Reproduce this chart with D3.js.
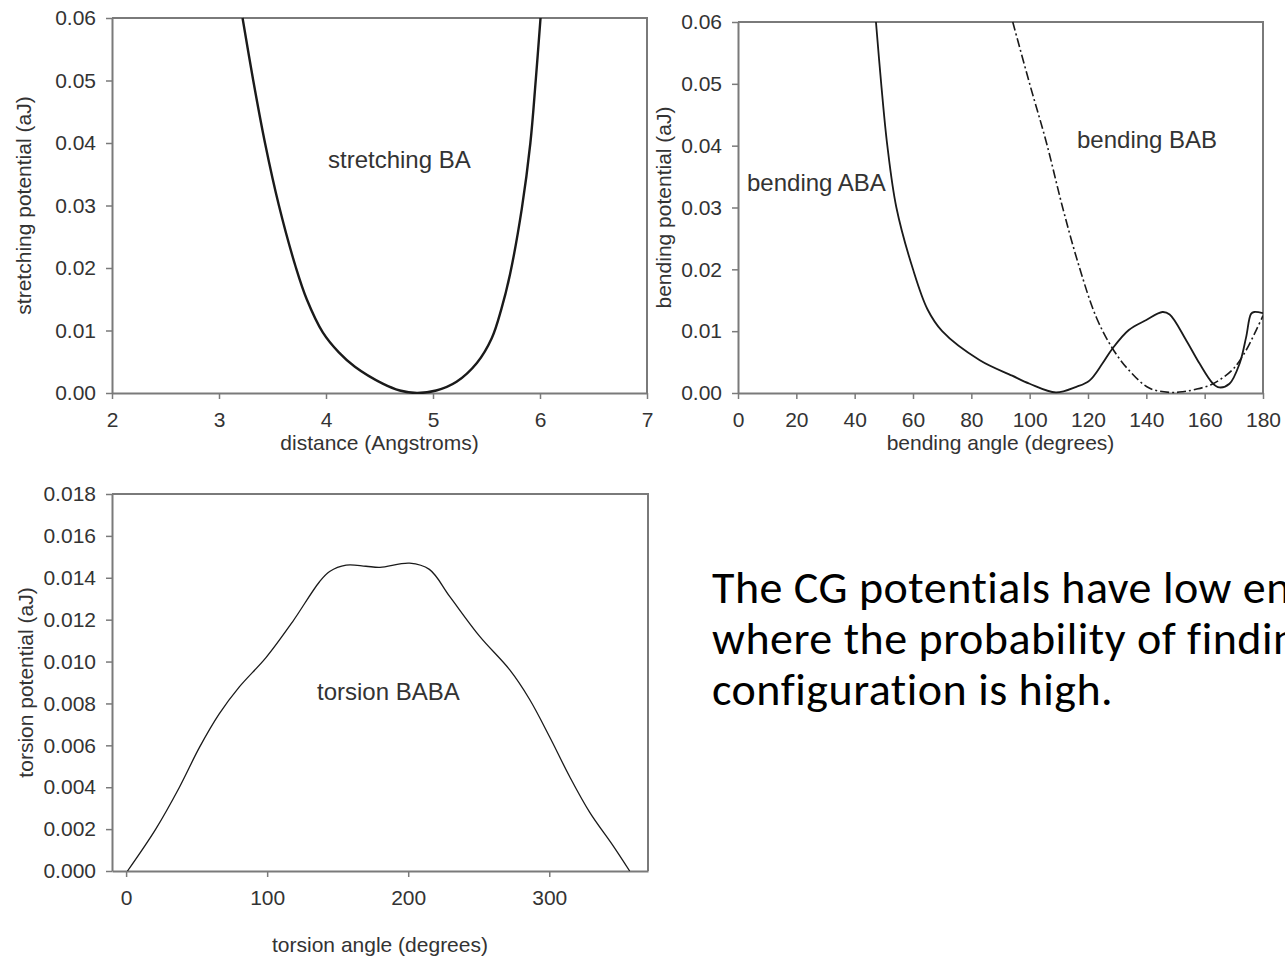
<!DOCTYPE html>
<html>
<head>
<meta charset="utf-8">
<script src="https://cdn.jsdelivr.net/npm/d3@7"></script>
<style>
  html, body { margin: 0; padding: 0; background: #fff; overflow: hidden; }
  svg { display: block; }
  .tick text { font-family: "Liberation Sans", Arial, sans-serif; font-size: 21px; fill: #333; }
</style>
</head>
<body>
<svg id="chart" width="1285" height="957"></svg>
<script>
// ---------- data ----------
const stretchX = [3.22, 3.32, 3.43, 3.56, 3.72, 3.82, 3.97, 4.12, 4.27, 4.53, 4.69, 4.85, 5.03, 5.22, 5.41, 5.55, 5.64, 5.72, 5.83, 5.91, 5.96, 6.005];
const stretchY = [0.06, 0.05, 0.04, 0.03, 0.02, 0.015, 0.0097, 0.0065, 0.0042, 0.0015, 0.0004, 0.0, 0.0004, 0.0018, 0.0048, 0.0088, 0.0135, 0.019, 0.0295, 0.04, 0.05, 0.06];

const abaX = [47.3, 49.1, 51.2, 54.3, 60, 65, 70, 82.9, 94, 100, 109, 116, 120.5, 125, 128.4, 134, 140, 145.5, 148, 153.7, 158.2, 162.7, 165, 168.5, 172, 174.2, 175.9, 177, 180];
const abaY = [0.06, 0.05, 0.04, 0.03, 0.02, 0.0135, 0.01, 0.0053, 0.0028, 0.0015, 0.0001, 0.001, 0.002, 0.0048, 0.0072, 0.0102, 0.0118, 0.0131, 0.0127, 0.0085, 0.0048, 0.0016, 0.0009, 0.0015, 0.0048, 0.009, 0.0128, 0.0131, 0.0129];

const babX = [94.2, 100, 105.8, 111.3, 117, 122.8, 128.4, 134, 141, 148, 152.5, 157, 162, 166, 170, 174.2, 177.6, 180];
const babY = [0.06, 0.05, 0.0404, 0.030, 0.0204, 0.0123, 0.0072, 0.0037, 0.0008, 0.0001, 0.0002, 0.0006, 0.0013, 0.0024, 0.0040, 0.0069, 0.0101, 0.0125];

const torX = [1, 21, 37.8, 52, 66, 80.4, 99.3, 118, 137, 144.3, 156, 170, 180, 201, 215, 229.5, 250.7, 272, 286, 300.3, 314.5, 328.7, 345.3, 357];
const torY = [0, 0.002, 0.004, 0.0059, 0.0075, 0.0088, 0.0102, 0.0119, 0.0138, 0.0143, 0.0146, 0.01455, 0.0145, 0.0147, 0.0144, 0.0131, 0.0112, 0.0096, 0.0082, 0.0064, 0.0045, 0.0028, 0.0012, 0];

const ticksStretchX = [2, 3, 4, 5, 6, 7];
const ticksStretchY = [0, 0.01, 0.02, 0.03, 0.04, 0.05, 0.06];
const ticksBendX = [0, 20, 40, 60, 80, 100, 120, 140, 160, 180];
const ticksBendY = [0, 0.01, 0.02, 0.03, 0.04, 0.05, 0.06];
const ticksTorX = [0, 100, 200, 300];
const ticksTorY = [0, 0.002, 0.004, 0.006, 0.008, 0.010, 0.012, 0.014, 0.016, 0.018];

const bodyLines = [
  "The CG potentials have low energy",
  "where the probability of finding the",
  "configuration is high."
];

// ---------- drawing ----------
const svg = d3.select("#chart");
const FONT = '"Liberation Sans", Arial, sans-serif';
const AXIS_COLOR = "#7a7a7a";
let clipId = 0;

function panel(opt) {
  const x = d3.scaleLinear().domain(opt.xDomain).range([opt.left, opt.right]);
  const y = d3.scaleLinear().domain(opt.yDomain).range([opt.bottom, opt.top]);
  const g = svg.append("g");
  const cid = "clip" + (clipId++);
  g.append("clipPath").attr("id", cid).append("rect")
    .attr("x", opt.left).attr("y", opt.top - 1)
    .attr("width", opt.right - opt.left).attr("height", opt.bottom - opt.top + 2);

  // frame (top + right)
  g.append("path")
    .attr("d", `M${opt.left},${opt.top}H${opt.right}V${opt.bottom}`)
    .attr("fill", "none").attr("stroke", AXIS_COLOR).attr("stroke-width", 2);

  const xa = g.append("g").attr("transform", `translate(0,${opt.bottom})`)
    .call(d3.axisBottom(x).tickValues(opt.xTicks).tickSize(6).tickPadding(13).tickFormat(d3.format("d")).tickSizeOuter(0));
  const ya = g.append("g").attr("transform", `translate(${opt.left},0)`)
    .call(d3.axisLeft(y).tickValues(opt.yTicks).tickSize(6).tickPadding(10).tickFormat(d3.format(opt.yFmt)).tickSizeOuter(0));
  [xa, ya].forEach(a => {
    a.select(".domain").attr("stroke", AXIS_COLOR).attr("stroke-width", 2);
    a.selectAll(".tick line").attr("stroke", AXIS_COLOR).attr("stroke-width", 1.5);
  });

  // axis titles
  g.append("text")
    .attr("x", (opt.left + opt.right) / 2).attr("y", opt.xTitleY)
    .attr("text-anchor", "middle").attr("font-family", FONT).attr("font-size", 21).attr("fill", "#333")
    .text(opt.xTitle);
  g.append("text")
    .attr("transform", `translate(${opt.yTitleX},${(opt.top + opt.bottom) / 2}) rotate(-90)`)
    .attr("text-anchor", "middle").attr("dy", "0.35em").attr("font-family", FONT).attr("font-size", 21).attr("fill", "#333")
    .text(opt.yTitle);

  const line = d3.line().x(d => x(d[0])).y(d => y(d[1])).curve(d3.curveCatmullRom.alpha(0.5));
  const lg = g.append("g").attr("clip-path", `url(#${cid})`);
  opt.series.forEach(s => {
    const pts = s.xs.map((v, i) => [v, s.ys[i]]);
    lg.append("path").datum(pts).attr("d", line)
      .attr("fill", "none").attr("stroke", "#1a1a1a")
      .attr("stroke-width", s.width).attr("stroke-dasharray", s.dash || null)
      .attr("stroke-linejoin", "round");
  });
  opt.labels.forEach(l => {
    g.append("text").attr("x", l.x).attr("y", l.y)
      .attr("font-family", FONT).attr("font-size", 24).attr("fill", "#333").text(l.text);
  });
}

panel({
  left: 112, right: 647, top: 18, bottom: 393,
  xDomain: [2, 7], yDomain: [0, 0.06],
  xTicks: ticksStretchX, yTicks: ticksStretchY, yFmt: ".2f",
  xTitle: "distance (Angstroms)", xTitleY: 450,
  yTitle: "stretching potential (aJ)", yTitleX: 24,
  series: [{ xs: stretchX, ys: stretchY, width: 2.4 }],
  labels: [{ x: 328, y: 168, text: "stretching BA" }]
});

panel({
  left: 738, right: 1263, top: 22, bottom: 393,
  xDomain: [0, 180], yDomain: [0, 0.06],
  xTicks: ticksBendX, yTicks: ticksBendY, yFmt: ".2f",
  xTitle: "bending angle (degrees)", xTitleY: 450,
  yTitle: "bending potential (aJ)", yTitleX: 664,
  series: [
    { xs: abaX, ys: abaY, width: 1.8 },
    { xs: babX, ys: babY, width: 1.6, dash: "9,3,2,3" }
  ],
  labels: [{ x: 747, y: 191, text: "bending ABA" }, { x: 1077, y: 148, text: "bending BAB" }]
});

panel({
  left: 112, right: 648, top: 494, bottom: 871,
  xDomain: [-10, 370], yDomain: [0, 0.018],
  xTicks: ticksTorX, yTicks: ticksTorY, yFmt: ".3f",
  xTitle: "torsion angle (degrees)", xTitleY: 952,
  yTitle: "torsion potential (aJ)", yTitleX: 26,
  series: [{ xs: torX, ys: torY, width: 1.3 }],
  labels: [{ x: 317, y: 700, text: "torsion BABA" }]
});

// body text
const body = svg.append("text")
  .attr("font-family", "Carlito, Calibri, Lato, sans-serif")
  .attr("font-size", 46).attr("letter-spacing", 0.5).attr("fill", "#000");
bodyLines.forEach((t, i) => {
  body.append("tspan").attr("x", 712).attr("y", 603 + i * 51).text(t);
});
</script>
</body>
</html>
